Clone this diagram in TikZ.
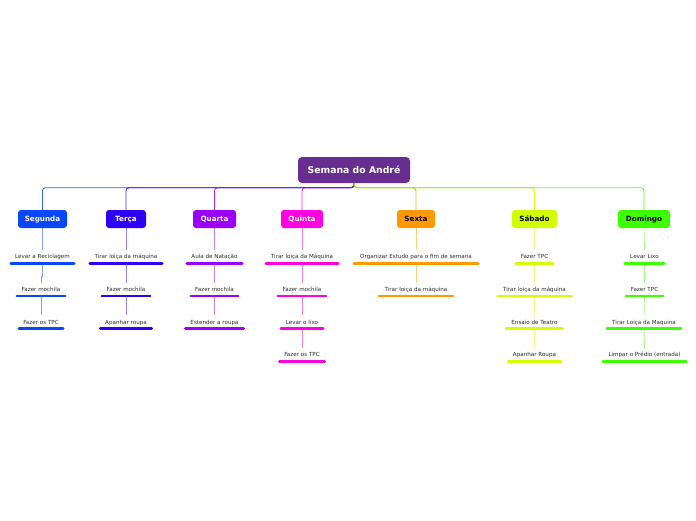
\documentclass[tikz,border=0pt]{standalone}
\usepackage{fontspec}
\setmainfont{DejaVu Sans}
\usetikzlibrary{calc}
\definecolor{cRoot}{HTML}{672D8F}
\definecolor{cSeg}{HTML}{0A46FA}
\definecolor{cTer}{HTML}{2E00F5}
\definecolor{cQua}{HTML}{9A00FA}
\definecolor{cQui}{HTML}{FF00E0}
\definecolor{cSex}{HTML}{FF9900}
\definecolor{cSab}{HTML}{D2FF00}
\definecolor{cDom}{HTML}{3CFF00}
\definecolor{leafgray}{HTML}{2A2A2A}
\begin{document}
\begin{tikzpicture}[x=1pt,y=-1pt,
  root/.style={fill=cRoot, rounded corners=4pt, minimum width=112pt, minimum height=26pt, inner sep=0pt, text height=6.8pt, text depth=0pt, text=white, font=\fontsize{9.3}{11}\selectfont\bfseries},
  day/.style 2 args={fill=#1, rounded corners=3pt, minimum height=18pt, minimum width=#2, inner sep=0pt, text height=5.25pt, text depth=0pt, font=\fontsize{7.2}{8.5}\selectfont\bfseries},
  leaf/.style={minimum width=#1, minimum height=13pt, inner sep=0pt, text height=4.1pt, text depth=0pt, font=\fontsize{5.6}{6.5}\selectfont, text=leafgray},
  uline/.style={line width=2.6pt, line cap=round, draw=#1},
  conn/.style={draw=#1, line width=0.9pt, rounded corners=3pt, draw opacity=0.85},
  sub/.style={draw=#1, line width=0.8pt, draw opacity=0.5}]
\useasboundingbox (0,0) rectangle (696,520);

\node[root] (root) at (354,170) {Semana do André};

\node[day={cSeg}{49pt}, text=white] (seg) at (42.5,219) {Segunda};
\node[day={cTer}{40pt}, text=white] (ter) at (126,219) {Terça};
\node[day={cQua}{43pt}, text=white] (qua) at (214.5,219) {Quarta};
\node[day={cQui}{42pt}, text=white] (qui) at (302,219) {Quinta};
\node[day={cSex}{38pt}, text=black] (sex) at (416,219) {Sexta};
\node[day={cSab}{45pt}, text=black] (sab) at (534.5,219) {Sábado};
\node[day={cDom}{52pt}, text=black] (dom) at (644,219) {Domingo};

% main connectors
\draw[conn=cQui] (root.south) -- ++(0,4.5) -| (qui.north);
\draw[conn=cSeg] (root.south) -- ++(0,4.5) -| (seg.north);
\draw[conn=cTer] (root.south) -- ++(0,4.5) -| (ter.north);
\draw[conn=cQua] (root.south) -- ++(0,4.5) -| (qua.north);
\draw[conn=cSex] (root.south) -- ++(0,4.5) -| (sex.north);
\draw[conn=cSab] (root.south) -- ++(0,4.5) -| (sab.north);
\draw[conn=cDom] (root.south) -- ++(0,4.5) -| (dom.north);

% Segunda
\node[leaf=63pt] (seg1) at (42.5,256.5) {Levar a Reciclagem};
\node[leaf=48pt] (seg2) at (41,289.3) {Fazer mochila};
\node[leaf=44pt] (seg3) at (41,322) {Fazer os TPC};
\draw[sub=cSeg] (seg.south) -- (seg1.north);
\draw[sub=cSeg] (seg1.south) -- ++(0,13) -| (seg2.north);
\draw[sub=cSeg] (seg2.south) -- (seg3.north);
\foreach \n in {seg1,seg2,seg3} \draw[uline=cSeg] (\n.south west) -- (\n.south east);

% Terça
\node[leaf=72pt] (ter1) at (126,256.5) {Tirar loiça da máquina};
\node[leaf=48pt] (ter2) at (126,289.3) {Fazer mochila};
\node[leaf=51pt] (ter3) at (126,322) {Apanhar roupa};
\draw[sub=cTer] (ter.south) -- (ter1.north);
\draw[sub=cTer] (ter1.south) -- (ter2.north);
\draw[sub=cTer] (ter2.south) -- (ter3.north);
\foreach \n in {ter1,ter2,ter3} \draw[uline=cTer] (\n.south west) -- (\n.south east);

% Quarta
\node[leaf=55pt] (qua1) at (214.5,256.5) {Aula de Natação};
\node[leaf=47pt] (qua2) at (214.5,289.3) {Fazer mochila};
\node[leaf=58pt] (qua3) at (214.5,322) {Estender a roupa};
\draw[sub=cQua] (qua.south) -- (qua1.north);
\draw[sub=cQua] (qua1.south) -- (qua2.north);
\draw[sub=cQua] (qua2.south) -- (qua3.north);
\foreach \n in {qua1,qua2,qua3} \draw[uline=cQua] (\n.south west) -- (\n.south east);

% Quinta
\node[leaf=72pt] (qui1) at (302,256.5) {Tirar loiça da Máquina};
\node[leaf=48pt] (qui2) at (302,289.3) {Fazer mochila};
\node[leaf=42pt] (qui3) at (302,322) {Levar o lixo};
\node[leaf=45pt] (qui4) at (302,354.8) {Fazer os TPC};
\draw[sub=cQui] (qui.south) -- (qui1.north);
\draw[sub=cQui] (qui1.south) -- (qui2.north);
\draw[sub=cQui] (qui2.south) -- (qui3.north);
\draw[sub=cQui] (qui3.south) -- (qui4.north);
\foreach \n in {qui1,qui2,qui3,qui4} \draw[uline=cQui] (\n.south west) -- (\n.south east);

% Sexta
\node[leaf=124pt] (sex1) at (416,256.5) {Organizar Estudo para o fim de semana};
\node[leaf=74pt] (sex2) at (416,289.3) {Tirar loiça da máquina};
\draw[sub=cSex] (sex.south) -- (sex1.north);
\draw[sub=cSex] (sex1.south) -- (sex2.north);
\foreach \n in {sex1,sex2} \draw[uline=cSex] (\n.south west) -- (\n.south east);

% Sábado
\node[leaf=37pt] (sab1) at (534.5,256.5) {Fazer TPC};
\node[leaf=74pt] (sab2) at (534.5,289.3) {Tirar loiça da máquina};
\node[leaf=56pt] (sab3) at (534.5,322) {Ensaio de Teatro};
\node[leaf=52pt] (sab4) at (534.5,354.8) {Apanhar Roupa};
\draw[sub=cSab] (sab.south) -- (sab1.north);
\draw[sub=cSab] (sab1.south) -- (sab2.north);
\draw[sub=cSab] (sab2.south) -- (sab3.north);
\draw[sub=cSab] (sab3.south) -- (sab4.north);
\foreach \n in {sab1,sab2,sab3,sab4} \draw[uline=cSab] (\n.south west) -- (\n.south east);

% Domingo
\node[leaf=39pt] (dom1) at (644.5,256.5) {Levar Lixo};
\node[leaf=37pt] (dom2) at (644.5,289.3) {Fazer TPC};
\node[leaf=74pt] (dom3) at (644,322) {Tirar Loiça da Maquina};
\node[leaf=83pt] (dom4) at (644.5,354.8) {Limpar o Prédio (entrada)};
\draw[sub=cDom] (dom.south) -- (dom1.north);
\draw[sub=cDom] (dom1.south) -- (dom2.north);
\draw[sub=cDom] (dom2.south) -- (dom3.north);
\draw[sub=cDom] (dom3.south) -- (dom4.north);
\foreach \n in {dom1,dom2,dom3,dom4} \draw[uline=cDom] (\n.south west) -- (\n.south east);
\end{tikzpicture}
\end{document}
